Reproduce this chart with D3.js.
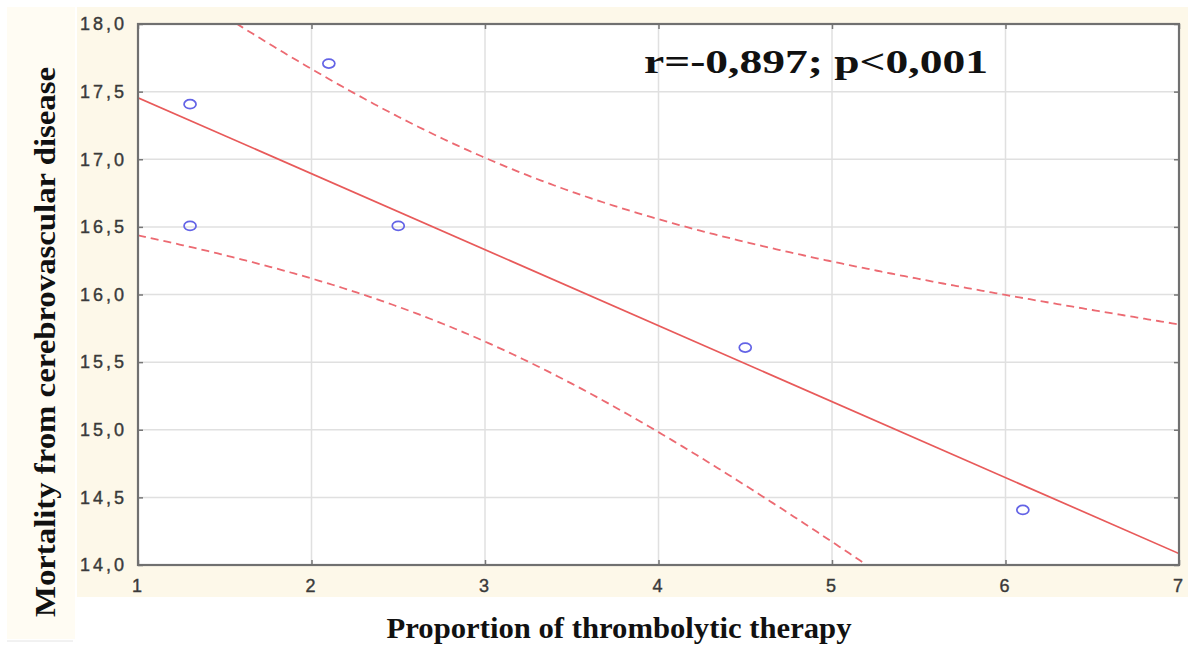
<!DOCTYPE html>
<html>
<head>
<meta charset="utf-8">
<script src="https://cdn.jsdelivr.net/npm/d3@7"></script>
<style>
  body { margin: 0; background: #fff; }
</style>
</head>
<body>
<div id="canvas"></div>
<script>
// data
const xValues = [1.3, 1.3, 2.1, 2.5, 4.5, 6.1];
const yValues = [17.4, 16.5, 17.7, 16.5, 15.6, 14.4];
const xTicks = [1, 2, 3, 4, 5, 6, 7];
const yTicks = [14.0, 14.5, 15.0, 15.5, 16.0, 16.5, 17.0, 17.5, 18.0];
const annotation = "r=-0,897; p<0,001";

const width = 1198;
const height = 657;
const margin = { top: 24, left: 138, bottom: 92, right: 19 };
const iwidth = width - margin.left - margin.right;
const iheight = height - margin.top - margin.bottom;

const svg = d3.select("#canvas").append("svg")
  .attr("width", width)
  .attr("height", height);

// cream panels behind the chart
svg.append("rect").attr("x", 7).attr("y", 7).attr("width", 68).attr("height", 632).attr("fill", "#fffcf3");
svg.append("line").attr("x1", 7).attr("x2", 73).attr("y1", 641).attr("y2", 641).attr("stroke", "#e4e4e4");
svg.append("rect").attr("x", 77).attr("y", 7).attr("width", 1111).attr("height", 590).attr("fill", "#fdf8e9");

const g = svg.append("g").attr("transform", `translate(${margin.left},${margin.top})`);

const x = d3.scaleLinear().domain([1, 7]).range([0, iwidth]);
const y = d3.scaleLinear().domain([14, 18]).range([iheight, 0]);

g.append("rect").attr("width", iwidth).attr("height", iheight).attr("fill", "#fff");

// grid
g.append("g").selectAll("line").data(xTicks.slice(1, -1)).join("line")
  .attr("x1", d => x(d)).attr("x2", d => x(d))
  .attr("y1", 0).attr("y2", iheight)
  .attr("stroke", "#e0e0e0").attr("stroke-width", 1.5);
g.append("g").selectAll("line").data(yTicks.slice(1, -1)).join("line")
  .attr("x1", 0).attr("x2", iwidth)
  .attr("y1", d => y(d)).attr("y2", d => y(d))
  .attr("stroke", "#e0e0e0").attr("stroke-width", 1.5);

// linear fit and 95% confidence band from the points
const n = xValues.length;
const mx = d3.mean(xValues), my = d3.mean(yValues);
const sxx = d3.sum(xValues, v => (v - mx) ** 2);
const sxy = d3.sum(xValues, (v, i) => (v - mx) * (yValues[i] - my));
const slope = sxy / sxx;
const icpt = my - slope * mx;
const sse = d3.sum(xValues, (v, i) => (yValues[i] - (icpt + slope * v)) ** 2);
const s = Math.sqrt(sse / (n - 2));
const tcrit = 2.776; // t(0.975, df=4)

const xs = d3.range(1, 7.001, 0.02);
const band = k => xs.map(v => [v, icpt + slope * v + k * tcrit * s * Math.sqrt(1 / n + (v - mx) ** 2 / sxx)]);

const plot = g.append("g");
g.append("clipPath").attr("id", "clip").append("rect").attr("width", iwidth).attr("height", iheight);
plot.attr("clip-path", "url(#clip)");

const line = d3.line().x(d => x(d[0])).y(d => y(d[1]));
plot.append("path").datum([[1, icpt + slope], [7, icpt + slope * 7]])
  .attr("d", line).attr("fill", "none").attr("stroke", "#e85a5a").attr("stroke-width", 1.7);
[1, -1].forEach(k => {
  plot.append("path").datum(band(k))
    .attr("d", line).attr("fill", "none").attr("stroke", "#ec6a72")
    .attr("stroke-width", 1.8).attr("stroke-dasharray", "8,5");
});

// points
plot.selectAll("ellipse").data(xValues).join("ellipse")
  .attr("cx", d => x(d))
  .attr("cy", (d, i) => y(yValues[i]) - 1)
  .attr("rx", 6).attr("ry", 4.5)
  .attr("fill", "none").attr("stroke", "#6363e6").attr("stroke-width", 1.7);

// axes
const fmt = d3.format(".1f");
g.append("g").call(d3.axisLeft(y).tickValues(yTicks).tickSize(-5).tickPadding(11)
  .tickFormat(d => fmt(d).replace(".", ",")));
g.append("g").attr("transform", `translate(0,${iheight})`)
  .call(d3.axisBottom(x).tickValues(xTicks).tickSize(-5).tickPadding(14).tickFormat(d3.format("d")));
g.append("g").attr("transform", `translate(${iwidth},0)`)
  .call(d3.axisRight(y).tickValues(yTicks).tickSize(-5).tickFormat(""));
g.append("g")
  .call(d3.axisTop(x).tickValues(xTicks).tickSize(-5).tickFormat(""));

g.selectAll(".domain").remove();
g.selectAll(".tick line").attr("stroke", "#777").attr("stroke-width", 1.5);
g.selectAll(".tick text")
  .attr("fill", "#3a3a3a")
  .attr("stroke", "#3a3a3a").attr("stroke-width", 0.4)
  .style("font-family", "'Liberation Sans', Arial, sans-serif")
  .style("font-size", "18px")
  .style("letter-spacing", "3px");

// frame
g.append("rect").attr("width", iwidth).attr("height", iheight)
  .attr("fill", "none").attr("stroke", "#707070").attr("stroke-width", 2.2);

// titles
svg.append("text")
  .attr("x", 619).attr("y", 638)
  .attr("text-anchor", "middle")
  .attr("textLength", 465).attr("lengthAdjust", "spacingAndGlyphs")
  .style("font-family", "'Liberation Serif', 'Times New Roman', serif")
  .style("font-weight", "bold").style("font-size", "30px")
  .attr("fill", "#111")
  .text("Proportion of thrombolytic therapy");

svg.append("text")
  .attr("transform", "translate(55,342) rotate(-90)")
  .attr("text-anchor", "middle")
  .attr("textLength", 550).attr("lengthAdjust", "spacingAndGlyphs")
  .style("font-family", "'Liberation Serif', 'Times New Roman', serif")
  .style("font-weight", "bold").style("font-size", "30px")
  .attr("fill", "#111")
  .text("Mortality from cerebrovascular disease");

g.append("text")
  .attr("x", 644 - margin.left).attr("y", 73 - margin.top)
  .attr("textLength", 344).attr("lengthAdjust", "spacingAndGlyphs")
  .style("font-family", "'Liberation Serif', 'Times New Roman', serif")
  .style("font-weight", "bold").style("font-size", "33px")
  .attr("fill", "#111")
  .text(annotation);
</script>
</body>
</html>
